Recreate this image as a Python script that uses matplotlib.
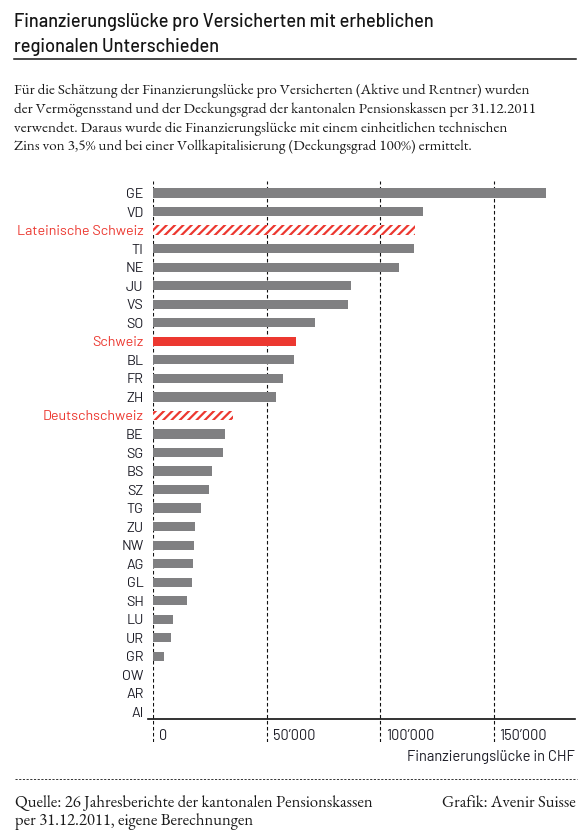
import matplotlib
matplotlib.use("Agg")
import matplotlib.pyplot as plt
import matplotlib.transforms as mtransforms
from matplotlib.lines import Line2D

# ---------------- data ----------------
categories = ['GE', 'VD', 'Lateinische Schweiz', 'TI', 'NE', 'JU', 'VS', 'SO',
              'Schweiz', 'BL', 'FR', 'ZH', 'Deutschschweiz', 'BE', 'SG', 'BS',
              'SZ', 'TG', 'ZU', 'NW', 'AG', 'GL', 'SH', 'LU', 'UR', 'GR',
              'OW', 'AR', 'AI']
values = [173300, 119100, 115600, 115100, 108500, 87200, 85900, 71300,
          62800, 62000, 57000, 54000, 35200, 31600, 30800, 25800,
          24500, 21000, 18400, 17900, 17500, 17100, 14900, 8600, 7800, 4600,
          0, 0, 0]
kinds = ['canton', 'canton', 'region', 'canton', 'canton', 'canton', 'canton', 'canton',
         'total', 'canton', 'canton', 'canton', 'region', 'canton', 'canton', 'canton',
         'canton', 'canton', 'canton', 'canton', 'canton', 'canton', 'canton', 'canton',
         'canton', 'canton', 'canton', 'canton', 'canton']
xticks = [0, 50000, 100000, 150000]
xticklabels = ['0', '50’000', '100’000', '150’000']

title_lines = ['Finanzierungslücke pro Versicherten mit erheblichen',
               'regionalen Unterschieden']
intro_lines = ['Für die Schätzung der Finanzierungslücke pro Versicherten (Aktive und Rentner) wurden',
               'der Vermögensstand und der Deckungsgrad der kantonalen Pensionskassen per 31.12.2011',
               'verwendet. Daraus wurde die Finanzierungslücke mit einem einheitlichen technischen',
               'Zins von 3,5% und bei einer Vollkapitalisierung (Deckungsgrad 100%) ermittelt.']
xlabel = 'Finanzierungslücke in CHF'
source_lines = ['Quelle: 26 Jahresberichte der kantonalen Pensionskassen',
                'per 31.12.2011, eigene Berechnungen']
credit = 'Grafik: Avenir Suisse'

# ---------------- style ----------------
GRAY = '#808082'
RED = '#ec3830'
DARK = '#1c1c26'
COND = ['Barlow', 'Barlow Semi Condensed', 'DejaVu Sans']
SERIF = ['EB Garamond', 'Liberation Serif', 'DejaVu Serif']
plt.rcParams['hatch.linewidth'] = 1.6

W, H = 587, 839
fig = plt.figure(figsize=(W / 100, H / 100), dpi=100)

def fx(px):
    return px / W

def fy(py):
    return 1 - py / H

# axes placement
ax_left, ax_right, ax_top, ax_bot = 153.3, 575, 181, 742
ax = fig.add_axes([fx(ax_left), fy(ax_bot), fx(ax_right - ax_left), (ax_bot - ax_top) / H])

n = len(categories)
pitch = 18.536
ypos = list(range(n))
ax.set_ylim(n - 1 + (ax_bot - 712) / pitch, -(193 - ax_top) / pitch)
ax.set_xlim(0, 50000 * (ax_right - ax_left) / 113.4)

for y, v, k in zip(ypos, values, kinds):
    if k == 'canton':
        ax.barh(y, v, height=0.5, color=GRAY, linewidth=0, zorder=3)
    elif k == 'total':
        ax.barh(y, v, height=0.5, color=RED, linewidth=0, zorder=3)
    else:
        ax.barh(y, v, height=0.5, facecolor='white', edgecolor=RED,
                hatch='////', linewidth=0, zorder=3)

for s in ax.spines.values():
    s.set_visible(False)
ax.set_xticks([])
ax.set_yticks(ypos)
ax.set_yticklabels(categories, fontfamily=COND, fontsize=10.3)
ax.tick_params(axis='y', length=0, pad=7)
for lab, k in zip(ax.get_yticklabels(), kinds):
    lab.set_color(RED if k != 'canton' else DARK)

# dashed verticals
for t in xticks:
    ax.axvline(t, color='#111111', lw=0.8, ls=(0, (3.2, 2.2)), zorder=1)

# axis baseline
base_y = n - 1 + (719 - 712) / pitch
ax.axhline(base_y, xmin=-(ax_left - 148) / (ax_right - ax_left), xmax=1,
           color='#111111', lw=1.2, zorder=4, clip_on=False)

# tick labels
off = mtransforms.offset_copy(ax.transData, fig=fig, x=6, y=0, units='dots')
lab_y = n - 1 + (736 - 712) / pitch
for t, tl in zip(xticks, xticklabels):
    ax.text(t, lab_y, tl, transform=off, ha='left', va='center',
            fontfamily=COND, fontsize=10.5, color=DARK)

fig.text(fx(575), fy(757), xlabel, ha='right', va='center',
         fontfamily=COND, fontsize=10.6, color=DARK)

# title
for i, line in enumerate(title_lines):
    fig.text(fx(14), fy(27 + 24.5 * i), line, ha='left', va='baseline',
             fontfamily=COND, fontsize=13.1, fontweight='medium', color='#151515')
fig.add_artist(Line2D([fx(14), fx(576)], [fy(58.5), fy(58.5)], color='#151515', lw=1.1))

# intro text
for i, line in enumerate(intro_lines):
    fig.text(fx(14), fy(94.5 + 18.6 * i), line, ha='left', va='baseline',
             fontfamily=SERIF, fontsize=10.9, color='#1a1a1a')

# footer
fig.add_artist(Line2D([fx(15), fx(577)], [fy(779), fy(779)], color='#333333',
                      lw=0.7, ls=(0, (2.2, 1.6))))
for i, line in enumerate(source_lines):
    fig.text(fx(15), fy(807 + 18.5 * i), line, ha='left', va='baseline',
             fontfamily=SERIF, fontsize=12, color='#1a1a1a')
fig.text(fx(576), fy(807), credit, ha='right', va='baseline',
         fontfamily=SERIF, fontsize=12, color='#1a1a1a')

fig.savefig('out.png', dpi=100, facecolor='white')
